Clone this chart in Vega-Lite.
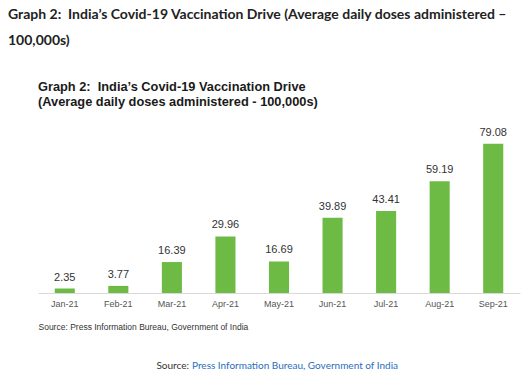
{
  "$schema": "https://vega.github.io/schema/vega-lite/v6.json",
  "background": "white",
  "padding": {"left": 8, "top": 8, "right": 3, "bottom": 3},
  "title": {
    "text": ["Graph 2:\u00a0 India’s Covid-19 Vaccination Drive (Average daily doses administered –", "100,000s)"],
    "anchor": "start",
    "font": "Lato",
    "fontSize": 14,
    "fontWeight": "bold",
    "color": "#222222",
    "lineHeight": 26,
    "offset": 33
  },
  "config": {"view": {"stroke": null}},
  "spacing": 27,
  "vconcat": [
    {
      "width": 482,
      "height": 170,
      "title": {
        "text": ["Graph 2:\u00a0 India’s Covid-19 Vaccination Drive", "(Average daily doses administered - 100,000s)"],
        "anchor": "start",
        "frame": "group",
        "font": "Liberation Sans",
        "fontSize": 12.8,
        "fontWeight": "bold",
        "color": "#1a1a1a",
        "lineHeight": 15,
        "offset": 14
      },
      "data": {
        "values": [
          {"month": "Jan-21", "doses": 2.35},
          {"month": "Feb-21", "doses": 3.77},
          {"month": "Mar-21", "doses": 16.39},
          {"month": "Apr-21", "doses": 29.96},
          {"month": "May-21", "doses": 16.69},
          {"month": "Jun-21", "doses": 39.89},
          {"month": "Jul-21", "doses": 43.41},
          {"month": "Aug-21", "doses": 59.19},
          {"month": "Sep-21", "doses": 79.08}
        ]
      },
      "encoding": {
        "x": {
          "field": "month",
          "type": "ordinal",
          "sort": null,
          "scale": {"paddingInner": 0.625, "paddingOuter": 0.3125},
          "axis": {
            "title": "Source: Press Information Bureau, Government of India",
            "titleFont": "Liberation Sans",
            "titleFontSize": 8.5,
            "titleFontWeight": "normal",
            "titleColor": "#333333",
            "titleAnchor": "start",
            "titleAlign": "left",
            "titleX": 0,
            "titlePadding": 14,
            "labelAngle": 0,
            "labelFont": "Liberation Sans",
            "labelFontSize": 9,
            "labelColor": "#555555",
            "labelPadding": 6,
            "ticks": false,
            "domainColor": "#d9d9d9",
            "domainWidth": 1
          }
        },
        "y": {
          "field": "doses",
          "type": "quantitative",
          "scale": {"domain": [0, 90], "nice": false},
          "axis": {"title": null, "labels": false, "ticks": false, "domain": false, "grid": false, "minExtent": 30, "maxExtent": 30}
        }
      },
      "layer": [
        {"mark": {"type": "bar", "color": "#6dbb45"}},
        {
          "mark": {"type": "text", "baseline": "bottom", "dy": -6, "font": "Liberation Sans", "fontSize": 11, "color": "#333333"},
          "encoding": {"text": {"field": "doses", "type": "quantitative", "format": ".2f"}}
        }
      ]
    },
    {
      "width": 482,
      "height": 16,
      "layer": [
        {
          "data": {"values": [{"label": "Source:"}]},
          "mark": {"type": "text", "align": "right", "dx": -90, "font": "Lato", "fontSize": 10, "color": "#333333"},
          "encoding": {"text": {"field": "label", "type": "nominal"}}
        },
        {
          "data": {"values": [{"label": "Press Information Bureau, Government of India"}]},
          "mark": {"type": "text", "align": "left", "dx": -87, "font": "Lato", "fontSize": 10, "color": "#2a6ebb"},
          "encoding": {"text": {"field": "label", "type": "nominal"}}
        }
      ]
    }
  ]
}
